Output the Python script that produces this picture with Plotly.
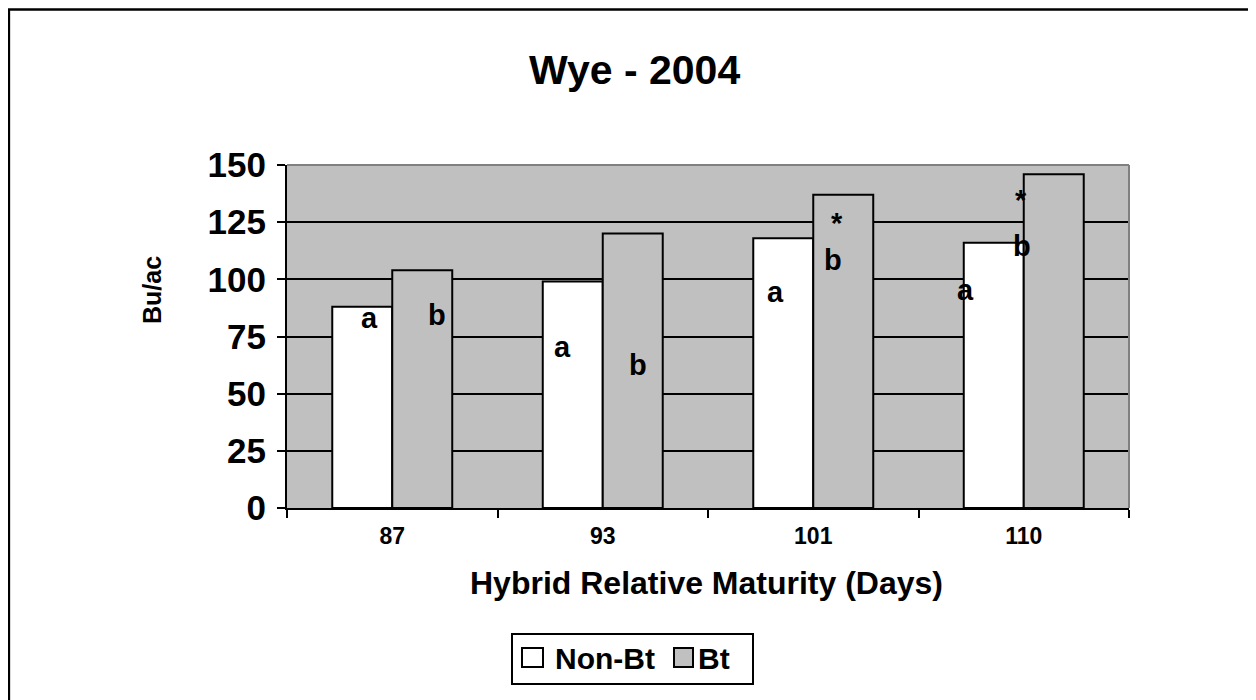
import plotly.graph_objects as go

# ---- data ----
categories = ["87", "93", "101", "110"]
non_bt = [88, 99, 118, 116]
bt = [104, 120, 137, 146]

# significance letters (text, category position, value level)
label_text = ["a", "b", "a", "b", "a", "b", "*", "a", "b", "*"]
label_x = [-0.106, 0.213, 0.811, 1.167, 1.823, 2.094, 2.113, 2.721, 2.992, 2.987]
label_y = [83, 84.5, 70.5, 62.5, 94.5, 108.5, 124.5, 95.5, 114.5, 134.5]

y_ticks = [0, 25, 50, 75, 100, 125, 150]

FONT = "Liberation Sans, Arial, sans-serif"
OFF = 8                      # page body margin
W, H = 1256 - OFF, 700 - OFF
L, R, T, B = 287, 1129, 165, 508  # plot area in screen pixels


def px(x):
    return (x - L) / (R - L)


def py(y):
    return (B - y) / (B - T)


def bold(size):
    return dict(family=FONT, size=size, color="black", weight="bold")


fig = go.Figure()
fig.add_trace(go.Bar(x=categories, y=non_bt, name="Non-Bt",
                     marker=dict(color="white", line=dict(color="black", width=2))))
fig.add_trace(go.Bar(x=categories, y=bt, name="Bt",
                     marker=dict(color="#C0C0C0", line=dict(color="black", width=2))))

annotations = []
for t, xv, yv in zip(label_text, label_x, label_y):
    annotations.append(dict(x=xv, y=yv, xref="x", yref="y", text=t, showarrow=False,
                            font=bold(29), xanchor="center", yanchor="middle"))

# titles
annotations.append(dict(x=px(634), y=py(70), xref="paper", yref="paper", text="Wye - 2004",
                        showarrow=False, font=bold(41), xanchor="center", yanchor="middle"))
annotations.append(dict(x=px(706), y=py(583), xref="paper", yref="paper",
                        text="Hybrid Relative Maturity (Days)",
                        showarrow=False, font=bold(32), xanchor="center", yanchor="middle"))
annotations.append(dict(x=px(152), y=py(290), xref="paper", yref="paper", text="Bu/ac",
                        showarrow=False, textangle=-90, font=bold(25),
                        xanchor="center", yanchor="middle"))
# legend texts
annotations.append(dict(x=px(553), y=py(658), xref="paper", yref="paper", text="Non-Bt",
                        showarrow=False, font=bold(30), xanchor="left", yanchor="middle"))
annotations.append(dict(x=px(696), y=py(658), xref="paper", yref="paper", text="Bt",
                        showarrow=False, font=bold(30), xanchor="left", yanchor="middle"))

shapes = [
    # outer frame (top and left)
    dict(type="path", xref="paper", yref="paper",
         path=f"M {px(8.8)} {py(760)} L {px(8.8)} {py(9.5)} L {px(1300)} {py(9.5)}",
         line=dict(color="black", width=2.7)),
    # plot area border top/right (gray)
    dict(type="line", xref="paper", yref="paper", x0=0, x1=1, y0=1, y1=1,
         line=dict(color="#808080", width=2), layer="above"),
    dict(type="line", xref="paper", yref="paper", x0=1, x1=1, y0=0, y1=1,
         line=dict(color="#808080", width=2), layer="above"),
    # legend box
    dict(type="rect", xref="paper", yref="paper", x0=px(512), x1=px(753), y0=py(684), y1=py(634),
         line=dict(color="black", width=2), fillcolor="white"),
    dict(type="rect", xref="paper", yref="paper", x0=px(522), x1=px(543), y0=py(667), y1=py(648),
         line=dict(color="black", width=2), fillcolor="white"),
    dict(type="rect", xref="paper", yref="paper", x0=px(674), x1=px(693), y0=py(667), y1=py(648),
         line=dict(color="black", width=2), fillcolor="#C0C0C0"),
]

fig.update_layout(
    width=W, height=H, autosize=False,
    margin=dict(l=L - OFF, r=W - (R - OFF), t=T - OFF, b=H - (B - OFF), pad=0),
    paper_bgcolor="white", plot_bgcolor="#C0C0C0",
    barmode="group", bargap=0.43, bargroupgap=0,
    showlegend=False,
    annotations=annotations, shapes=shapes,
    font=dict(family=FONT, color="black"),
)
fig.update_xaxes(type="category", tickson="boundaries", ticks="outside", ticklen=8, tickwidth=2,
                 tickcolor="black", showline=True, linecolor="black", linewidth=2,
                 showgrid=False, tickfont=bold(23), ticklabelstandoff=6)
fig.update_yaxes(range=[0, 150], tickvals=y_ticks, ticks="outside", ticklen=8, tickwidth=2,
                 tickcolor="black", showline=True, linecolor="black", linewidth=2,
                 showgrid=True, gridcolor="black", gridwidth=2, zeroline=False,
                 tickfont=bold(35), ticklabelstandoff=4)

fig.write_html("out.html")
